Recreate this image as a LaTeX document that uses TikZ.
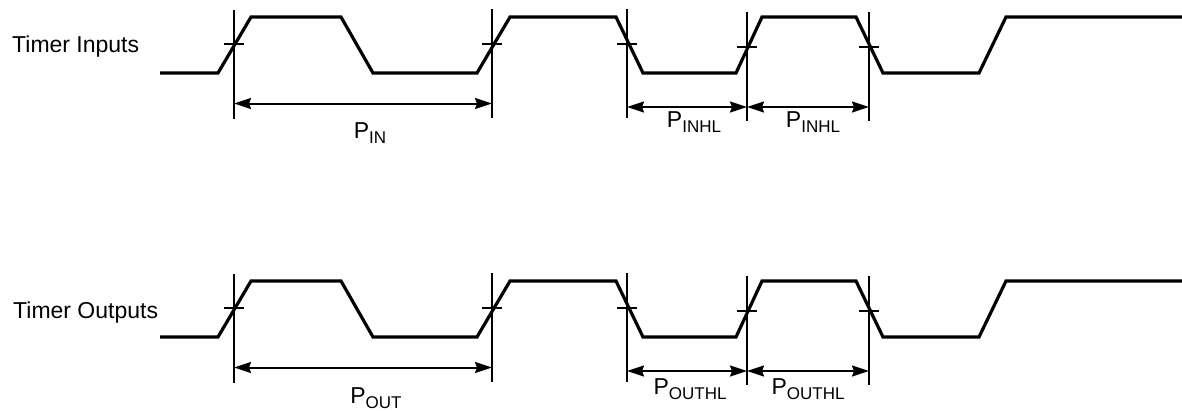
\documentclass[tikz,border=0pt]{standalone}
\usepackage{fontspec}
\setmainfont{Liberation Sans}
\usetikzlibrary{arrows.meta}
\newcommand{\sigsub}[2]{#1\raisebox{-5.5pt}{\fontsize{17}{17}\selectfont #2}}
\tikzset{
  wave/.style={line width=3.2pt, line join=miter, line cap=butt},
  mark line/.style={line width=1.8pt},
  tickmark/.style={line width=1.6pt},
  dim/.style={line width=2pt, {Stealth[length=17pt,width=11pt,inset=2pt]}-{Stealth[length=17pt,width=11pt,inset=2pt]}},
  lbl/.style={inner sep=0pt, font=\fontsize{23}{26}\selectfont},
}
\begin{document}
\begin{tikzpicture}[x=1pt,y=-1pt]
\useasboundingbox (0,0) rectangle (1182,410);
\foreach \off/\nm in {0/in,264/out}{
\begin{scope}[yshift=-\off pt]
  \draw[wave] (160,73) -- (218,73) -- (251,17) -- (341,17) -- (373,73) -- (477,73) -- (510,17) -- (616,17) -- (643,73) -- (736,73) -- (762,17) -- (856,17) -- (883,73) -- (979,73) -- (1006,17) -- (1182,17);
  % vertical marker lines
  \foreach \i/\x/\ty/\by in {1/234/10/119,2/492/9/118,3/627/9/118,4/747/12/121,5/869/12/121}{
    \coordinate (\nm t\i) at (\x,\ty);
    \coordinate (\nm b\i) at (\x,\by);
    \draw[mark line] (\nm t\i) -- (\nm b\i);
  }
  \foreach \i/\x/\y in {1/234/44,2/492/44,3/627/44,4/747/47,5/869/47}{
    \coordinate (\nm l\i) at (\x-10,\y);
    \coordinate (\nm r\i) at (\x+10,\y);
    \draw[tickmark] (\nm l\i) -- (\nm r\i);
  }
  \coordinate (\nm a1) at (234,103.5);
  \coordinate (\nm a2) at (492,103.5);
  \coordinate (\nm c1) at (627,107);
  \coordinate (\nm c2) at (747,107);
  \coordinate (\nm c3) at (869,107);
  \draw[dim] (\nm a1) -- (\nm a2);
  \draw[dim] (\nm c1) -- (\nm c2);
  \draw[dim] (\nm c2) -- (\nm c3);
\end{scope}
}
\node[lbl, anchor=base west] (tin) at (12,52) {Timer Inputs};
\node[lbl, anchor=base west] (tout) at (13,318) {Timer Outputs};
\node[lbl, anchor=base] (pin) at (370,138) {\sigsub{P}{IN}};
\node[lbl, anchor=base] (pinhl1) at (694,127) {\sigsub{P}{INHL}};
\node[lbl, anchor=base] (pinhl2) at (813,127) {\sigsub{P}{INHL}};
\node[lbl, anchor=base] (pout) at (376,403) {\sigsub{P}{OUT}};
\node[lbl, anchor=base] (pouthl1) at (690,394) {\sigsub{P}{OUTHL}};
\node[lbl, anchor=base] (pouthl2) at (808,394) {\sigsub{P}{OUTHL}};
\end{tikzpicture}
\end{document}
